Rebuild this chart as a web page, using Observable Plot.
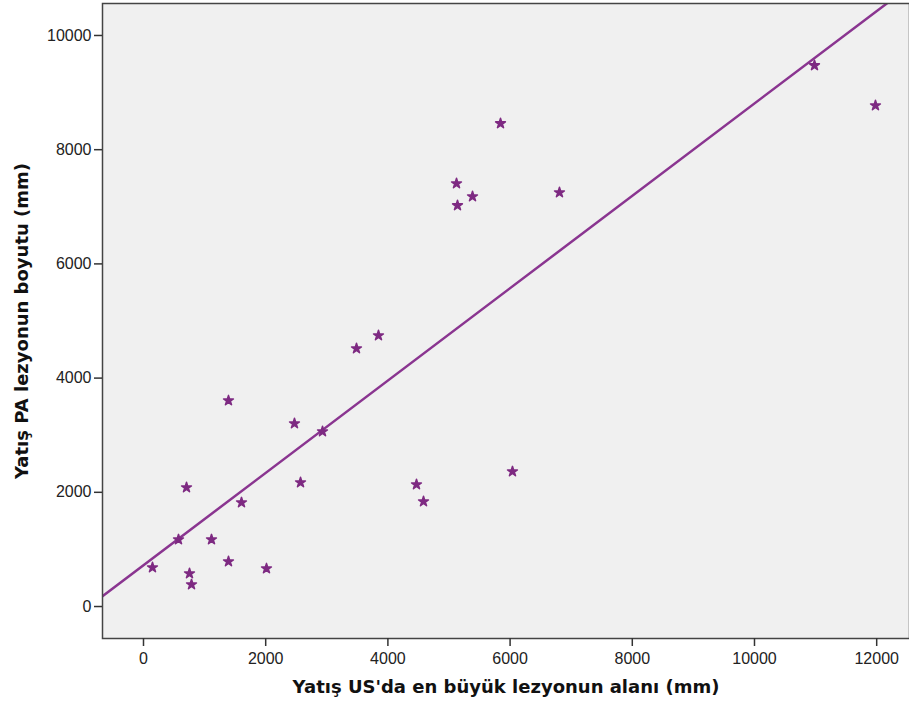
<!DOCTYPE html>
<html>
<head>
<meta charset="utf-8">
<script src="https://cdn.jsdelivr.net/npm/d3@7"></script>
<script src="https://cdn.jsdelivr.net/npm/@observablehq/plot@0.6"></script>
<style>
  html, body { margin: 0; padding: 0; background: #fff; }
  #chart svg { display: block; }
</style>
</head>
<body>
<div id="chart"></div>
<script>
// Data
const usArea = [147, 573, 704, 753, 786, 1113, 1391, 1391, 1604, 2013, 2471, 2570, 2930, 3486, 3846, 4468, 4583, 5123, 5139, 5385, 5843, 6039, 6808, 10982, 11980];
const paSize = [683, 1173, 2084, 578, 385, 1173, 3607, 788, 1821, 665, 3205, 2172, 3065, 4518, 4746, 2137, 1839, 7408, 7023, 7180, 8459, 2364, 7250, 9475, 8774];
const xTicks = [0, 2000, 4000, 6000, 8000, 10000, 12000];
const yTicks = [0, 2000, 4000, 6000, 8000, 10000];
const xTitle = "Yatış US'da en büyük lezyonun alanı (mm)";
const yTitle = "Yatış PA lezyonun boyutu (mm)";

const points = usArea.map((x, i) => ({x, y: paSize[i]}));

// least-squares fit line
const mx = d3.mean(usArea), my = d3.mean(paSize);
const sxy = d3.sum(points, d => (d.x - mx) * (d.y - my));
const sxx = d3.sum(points, d => (d.x - mx) ** 2);
const slope = sxy / sxx;
const intercept = my - slope * mx;

const xDomain = [-671, 12537];
const yDomain = [-560, 10560];
const fitLine = xDomain.map(x => ({x, y: intercept + slope * x}));

const purple = "#7e2a82";
const tickFont = "'Liberation Sans', Arial, sans-serif";
const titleFont = "'DejaVu Sans', Verdana, sans-serif";

const chart = Plot.plot({
  width: 909,
  height: 713,
  marginLeft: 102,
  marginTop: 3,
  marginRight: 0,
  marginBottom: 75,
  style: {fontFamily: tickFont, fontSize: "16px", color: "#222", background: "#fff"},
  x: {domain: xDomain},
  y: {domain: yDomain},
  marks: [
    Plot.frame({fill: "#f0f0f0", stroke: null}),
    Plot.line(fitLine, {x: "x", y: "y", stroke: "#8a3590", strokeWidth: 2.5, clip: true}),
    Plot.dot(points, {x: "x", y: "y", symbol: "star", r: 3.1, fill: purple, stroke: purple, strokeWidth: 1.5, strokeLinejoin: "round"}),
    Plot.frame({stroke: "#444", strokeWidth: 1.5}),
    Plot.axisX(xTicks, {tickSize: 8, tickPadding: 6, fontSize: 16, fontFamily: tickFont, tickFormat: d => String(d), label: null, stroke: "#333", strokeWidth: 1.5}),
    Plot.axisY(yTicks, {tickSize: 8, tickPadding: 3, fontSize: 16, fontFamily: tickFont, tickFormat: d => String(d), label: null, stroke: "#333", strokeWidth: 1.5}),
    Plot.text([xTitle], {frameAnchor: "bottom", dy: 54, text: d => d, textAnchor: "middle", fontWeight: "bold", fontSize: 18, fontFamily: titleFont, fill: "#111"}),
    Plot.text([yTitle], {frameAnchor: "left", dx: -80, rotate: -90, text: d => d, textAnchor: "middle", fontWeight: "bold", fontSize: 18, fontFamily: titleFont, fill: "#111"})
  ]
});
document.getElementById("chart").appendChild(chart);
</script>
</body>
</html>
